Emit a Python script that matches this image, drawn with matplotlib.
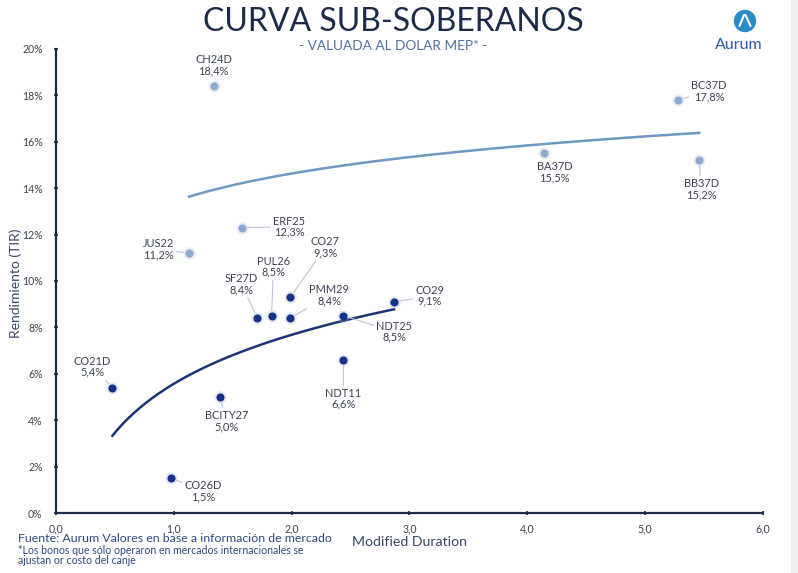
import numpy as np
import matplotlib
matplotlib.use("Agg")
import matplotlib.pyplot as plt
from matplotlib.patches import Circle, Rectangle

plt.rcParams['font.family'] = ['Lato', 'DejaVu Sans']

# ---- data ----
dark_names = ["CO27", "PUL26", "SF27D", "PMM29", "CO29", "NDT25", "NDT11", "CO21D", "BCITY27", "CO26D"]
dark_dur = [1.99, 1.83, 1.71, 1.99, 2.87, 2.44, 2.44, 0.48, 1.39, 0.98]
dark_yld = [9.3, 8.5, 8.4, 8.4, 9.1, 8.5, 6.6, 5.4, 5.0, 1.5]

light_names = ["CH24D", "JUS22", "ERF25", "BA37D", "BC37D", "BB37D"]
light_dur = [1.34, 1.13, 1.58, 4.14, 5.28, 5.46]
light_yld = [18.4, 11.2, 12.3, 15.5, 17.8, 15.2]

x_ticks = [0, 1, 2, 3, 4, 5, 6]
x_ticklabels = ["0,0", "1,0", "2,0", "3,0", "4,0", "5,0", "6,0"]
y_ticks = [0, 2, 4, 6, 8, 10, 12, 14, 16, 18, 20]
y_ticklabels = [f"{v}%" for v in y_ticks]

# label offsets (pixels, screen: dx right, dy down), leader flag
offsets = {
    "CH24D": (0, -21, False), "BC37D": (31, -9, True), "BB37D": (2, 29, True),
    "BA37D": (11, 19, True), "JUS22": (-31, -4, True), "ERF25": (47, -1, True),
    "CO27": (35, -50, True), "PUL26": (2, -49, True), "SF27D": (-16, -34, True),
    "PMM29": (39, -23, True), "CO29": (36, -6, True), "NDT25": (51, 16, True),
    "NDT11": (0, 39, True), "CO21D": (-20, -21, True), "BCITY27": (7, 24, True),
    "CO26D": (32, 13, True),
}

DARK = "#15318a"
LIGHT = "#8eaad2"
DARK_LINE = "#1b3574"
LIGHT_LINE = "#6f98c2"
NAVY = "#1c2b4a"
TXT = "#3c4253"
LEADER = "#b9c5d8"

fig = plt.figure(figsize=(7.98, 5.73), dpi=100)
fig.patch.set_facecolor("white")
ax = fig.add_axes([0.070, 0.1047, 0.886, 0.8098])

# trendlines (log fit)
def logfit(xs, ys):
    xs = np.asarray(xs); ys = np.asarray(ys)
    b, a = np.polyfit(np.log(xs), ys, 1)
    xx = np.linspace(xs.min(), xs.max(), 200)
    return xx, a + b * np.log(xx)

xx, yy = logfit(dark_dur, dark_yld)
ax.plot(xx, yy, color=DARK_LINE, lw=1.8, zorder=2)
xx, yy = logfit(light_dur, light_yld)
ax.plot(xx, yy, color=LIGHT_LINE, lw=1.8, zorder=2)

# shadows + points
ax.scatter(dark_dur, dark_yld, s=80, color="#9aa6c0", alpha=0.25, lw=0, zorder=3)
ax.scatter(light_dur, light_yld, s=80, color="#b0b8c8", alpha=0.25, lw=0, zorder=3)
ax.scatter(dark_dur, dark_yld, s=34, color=DARK, lw=0, zorder=4)
ax.scatter(light_dur, light_yld, s=34, color=LIGHT, lw=0, zorder=4)

def fmt(v):
    return f"{v:.1f}".replace(".", ",") + "%"

for names, xs, ys in ((dark_names, dark_dur, dark_yld), (light_names, light_dur, light_yld)):
    for n, x, y in zip(names, xs, ys):
        dx, dy, leader = offsets[n]
        kw = {}
        if leader:
            kw["arrowprops"] = dict(arrowstyle="-", color=LEADER, lw=0.8, shrinkA=0, shrinkB=4)
        ax.annotate(f"{n}\n{fmt(y)}", xy=(x, y), xytext=(dx, -dy), textcoords="offset pixels",
                    ha="center", va="center", fontsize=7.9, color=TXT, linespacing=1.0,
                    zorder=5, **kw)

ax.set_xlim(0, 6)
ax.set_ylim(0, 20)
ax.set_xticks(x_ticks)
ax.set_xticklabels(x_ticklabels)
ax.set_yticks(y_ticks)
ax.set_yticklabels(y_ticklabels)
for s in ("top", "right"):
    ax.spines[s].set_visible(False)
for s in ("left", "bottom"):
    ax.spines[s].set_color(NAVY)
    ax.spines[s].set_linewidth(1.6)
ax.tick_params(axis="both", length=3, width=1.2, color=NAVY, labelsize=7.6, labelcolor=TXT, direction="inout")
ax.tick_params(axis="x", pad=6)
ax.tick_params(axis="y", pad=8)
ax.set_facecolor("white")

fig.text(16 / 798, 1 - 283 / 573, "Rendimiento (TIR)", fontsize=10, color="#3a4868",
         ha="center", va="center", rotation=90)
fig.text(410 / 798, 1 - 542 / 573, "Modified Duration", fontsize=10.2, color="#3a4868", ha="center", va="center")

# title
fig.text(393 / 798, 1 - 22 / 573, "CURVA SUB-SOBERANOS", fontsize=23, color=NAVY, ha="center", va="center")
fig.text(393 / 798, 1 - 46 / 573, "- VALUADA AL DOLAR MEP* -", fontsize=9.8, color="#5070a0", ha="center", va="center")

# footer
fig.text(18 / 798, 1 - 539 / 573, "Fuente: Aurum Valores en base a información de mercado", fontsize=8.9, color="#2c4a82", ha="left", va="center")
fig.text(18 / 798, 1 - 550 / 573, "*Los bonos que sólo operaron en mercados internacionales se", fontsize=7.6, color="#2c4a82", ha="left", va="center")
fig.text(18 / 798, 1 - 561 / 573, "ajustan or costo del canje", fontsize=7.6, color="#2c4a82", ha="left", va="center")

# logo
lax = fig.add_axes([725 / 798, 1 - 55 / 573, 40 / 798, 50 / 573])
lax.set_xlim(0, 40); lax.set_ylim(50, 0); lax.axis("off")
lax.set_aspect("equal")
lax.add_patch(Circle((20, 16), 10.5, color="#2a8cc4"))
lax.plot([14.5, 19, 20.5, 25.5], [21, 10, 10, 21], color="white", lw=1.5, solid_capstyle="round", solid_joinstyle="round")
fig.text(739 / 798, 1 - 45 / 573, "Aurum", fontsize=11.5, color="#2a5ca8", ha="center", va="center")

# right edge gray band
fig.patches.append(Rectangle((791 / 798, 0), 7 / 798, 1, transform=fig.transFigure, color="#eeeeee", zorder=-1))

fig.savefig("out.png", dpi=100, facecolor="white")
